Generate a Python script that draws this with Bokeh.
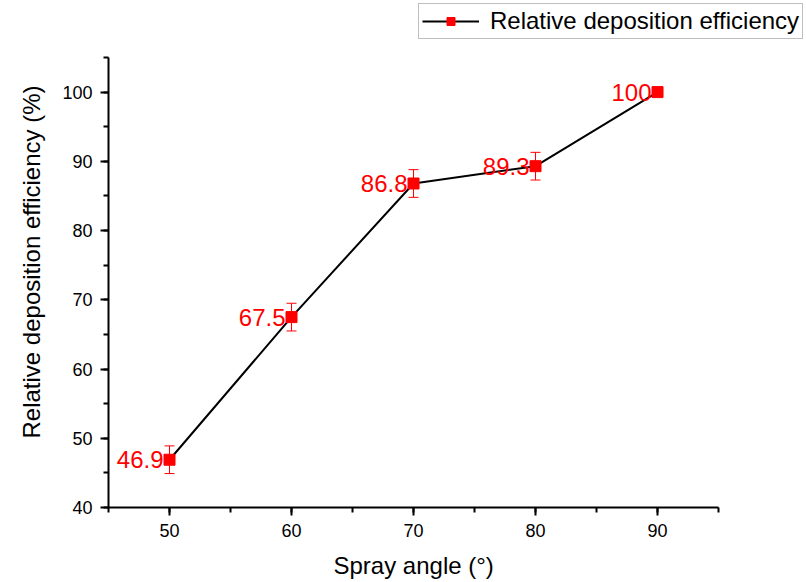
from bokeh.plotting import figure
from bokeh.models import (ColumnDataSource, Whisker, TeeHead, Legend, LegendItem,
                          SingleIntervalTicker, Range1d, Title)
from bokeh.core.properties import value
from bokeh.embed import file_html
from bokeh.resources import INLINE

# data
spray_angle = [50, 60, 70, 80, 90]
efficiency = [46.9, 67.5, 86.8, 89.3, 100.0]
error = [2.0, 2.0, 2.0, 2.0, 0.0]
labels = ["46.9", "67.5", "86.8", "89.3", "100"]

FONT = "Liberation Sans"

src = ColumnDataSource(dict(
    x=spray_angle, y=efficiency,
    lo=[v - e for v, e in zip(efficiency, error)],
    hi=[v + e for v, e in zip(efficiency, error)],
    lab=labels,
))

# frame spans up to the canvas top/right so the legend can sit above the axes;
# the axes themselves are bounded to 45-95 and 40-105
p = figure(width=806, height=582, frame_width=698, frame_height=507,
           min_border_left=108, min_border_right=0, min_border_top=0,
           min_border_bottom=75, output_backend="svg", toolbar_location=None,
           x_range=Range1d(45, 102.21), y_range=Range1d(40, 113.23))
p.outline_line_color = None
p.xgrid.visible = False
p.ygrid.visible = False
p.xaxis.bounds = (45, 95)
p.yaxis.bounds = (40, 105)

for ax in (p.xaxis[0], p.yaxis[0]):
    ax.ticker = SingleIntervalTicker(interval=10, num_minor_ticks=2)
    ax.axis_line_width = 2
    ax.axis_line_color = "black"
    ax.major_tick_line_width = 2
    ax.minor_tick_line_width = 2
    ax.major_tick_out = 8
    ax.major_tick_in = 0
    ax.minor_tick_out = 5
    ax.minor_tick_in = 0
    ax.major_label_text_font = FONT
    ax.major_label_text_font_size = "18px"
    ax.major_label_text_color = "black"
    ax.major_label_standoff = 8

# axis titles (placed with offsets so they centre on the bounded axes)
xt = Title(text="Spray angle (°)", align="left", offset=225, standoff=20,
           text_font=FONT, text_font_size="24px", text_font_style="normal",
           text_color="black")
p.add_layout(xt, "below")
yt = Title(text="Relative deposition efficiency (%)", align="left", offset=69,
           standoff=30,
           text_font=FONT, text_font_size="24px", text_font_style="normal",
           text_color="black")
p.add_layout(yt, "left")

# error bars
w = Whisker(source=src, base="x", lower="lo", upper="hi",
            line_color="red", line_width=1,
            upper_head=TeeHead(size=10, line_color="red", line_width=1),
            lower_head=TeeHead(size=10, line_color="red", line_width=1))
p.add_layout(w)

ln = p.line("x", "y", source=src, line_color="black", line_width=2)
sc = p.scatter("x", "y", source=src, marker="square", size=11,
               fill_color="red", line_color="red")

p.text("x", "y", text="lab", source=src, x_offset=-6,
       text_align="right", text_baseline="middle",
       text_font=value(FONT), text_font_size="24px", text_color="red")

legend = Legend(items=[LegendItem(label="Relative deposition efficiency",
                                  renderers=[ln, sc])],
                location=(310, 468), glyph_width=57, glyph_height=20,
                label_standoff=11, padding=3, margin=0, spacing=0,
                label_text_font=FONT, label_text_font_size="24px",
                label_text_color="black",
                border_line_color="#808080", border_line_width=1,
                background_fill_color="white")
p.add_layout(legend)

open("out.html", "w").write(file_html(p, INLINE))
